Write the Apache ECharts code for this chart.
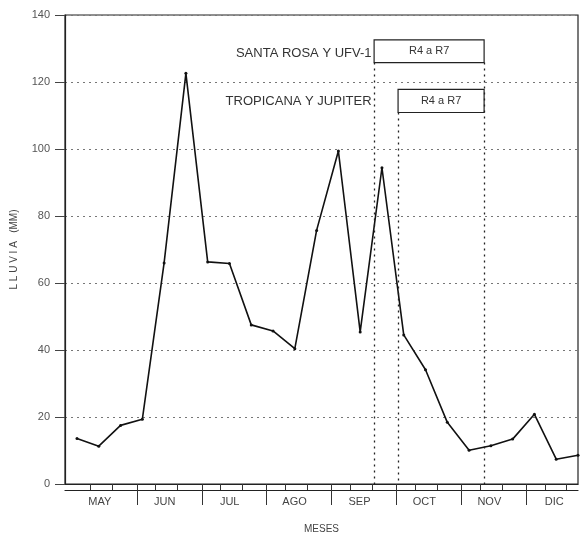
<!DOCTYPE html>
<html>
<head>
<meta charset="utf-8">
<style>html,body{margin:0;padding:0;background:#fff;}#c{width:580px;height:539px;}</style>
<script src="https://cdn.jsdelivr.net/npm/echarts@6/dist/echarts.min.js"></script>
</head>
<body>
<div id="c"></div>
<script>
// Rainfall per decade (10-day period), May .. December
const months = ['MAY', 'JUN', 'JUL', 'AGO', 'SEP', 'OCT', 'NOV', 'DIC'];
const rainfall = [13.6, 11.3, 17.5, 19.3, 66, 122.6, 66.3, 65.8, 47.5, 45.7, 40.4, 75.7,
                  99.4, 45.4, 94.4, 44.5, 34.1, 18.4, 10.1, 11.4, 13.4, 20.8, 7.4, 8.6];
const yTicks = [0, 20, 40, 60, 80, 100, 120, 140];
// periods (in decade index units)
const periodStartSR = 13.64, periodStartTJ = 14.74, periodEnd = 18.69;
const labelSR = 'SANTA ROSA Y UFV-1';
const labelTJ = 'TROPICANA Y JUPITER';
const boxText = 'R4 a R7';

const FONT = "'Liberation Sans', Arial, sans-serif";
const monthW = 2.98, firstStart = -0.23;
const monthStarts = months.map((m, k) => firstStart + monthW * k);
const boundaries = monthStarts.slice(1);
const labelPos = monthStarts.map(s => s + 1.28);
const minorPos = [];
monthStarts.forEach(s => { minorPos.push(s + 0.85, s + 1.85); });
const XMIN = -0.55, XMAX = 23;

const chart = echarts.init(document.getElementById('c'), null, {renderer: 'canvas'});
const data = rainfall.map((v, i) => [i, v]);

chart.setOption({
  animation: false,
  backgroundColor: '#fff',
  grid: {left: 65, right: 2, top: 15, bottom: 52, show: true, borderColor: '#222', borderWidth: 1.2, backgroundColor: 'transparent'},
  xAxis: [
    {
      type: 'value', min: XMIN, max: XMAX, position: 'bottom',
      name: 'MESES', nameLocation: 'middle', nameGap: 40,
      nameTextStyle: {fontFamily: FONT, fontSize: 10, color: '#444'},
      axisLine: {show: true, onZero: false, lineStyle: {color: '#222', width: 1.2}},
      axisTick: {show: true, customValues: boundaries, length: 21, lineStyle: {color: '#333', width: 1}},
      axisLabel: {
        show: true, customValues: labelPos, margin: 12,
        fontFamily: FONT, fontSize: 11, color: '#444',
        formatter: v => {
          let best = 0;
          labelPos.forEach((p, k) => { if (Math.abs(p - v) < Math.abs(labelPos[best] - v)) best = k; });
          return months[best];
        }
      },
      splitLine: {show: false}
    },
    {
      type: 'value', min: XMIN, max: XMAX, position: 'bottom', offset: 0,
      axisLine: {show: false, onZero: false},
      axisTick: {show: true, customValues: minorPos, length: 6, lineStyle: {color: '#333', width: 1}},
      axisLabel: {show: false}, splitLine: {show: false}
    },
    {
      type: 'value', min: XMIN, max: XMAX, position: 'bottom', offset: 6,
      axisLine: {show: true, onZero: false, lineStyle: {color: '#222', width: 1.2}},
      axisTick: {show: false}, axisLabel: {show: false}, splitLine: {show: false}
    }
  ],
  yAxis: {
    type: 'value', min: 0, max: 140, interval: 20,
    name: 'L L U V I A   (MM)', nameLocation: 'middle', nameGap: 46,
    nameTextStyle: {fontFamily: FONT, fontSize: 10, color: '#444'},
    axisLine: {show: true, onZero: false, lineStyle: {color: '#222', width: 1.2}},
    axisTick: {show: true, length: 10, lineStyle: {color: '#444'}},
    axisLabel: {margin: 15, fontFamily: FONT, fontSize: 11, color: '#555',
      formatter: v => yTicks.includes(v) ? String(v) : ''},
    splitLine: {show: true, lineStyle: {type: [2, 4], color: '#777', width: 1}}
  },
  series: [{
    type: 'line', data: data, xAxisIndex: 0,
    symbol: 'circle', symbolSize: 3,
    lineStyle: {color: '#111', width: 1.6},
    itemStyle: {color: '#111'},
    clip: true,
    markLine: {
      silent: true, symbol: ['none', 'none'],
      lineStyle: {type: [2, 4], color: '#222', width: 1.3},
      label: {show: false},
      data: [
        [{coord: [periodStartSR, 125.8]}, {coord: [periodStartSR, 0]}],
        [{coord: [periodStartTJ, 110.9]}, {coord: [periodStartTJ, 0]}],
        [{coord: [periodEnd, 125.8]}, {coord: [periodEnd, 0]}]
      ]
    },
    markArea: {
      silent: true,
      itemStyle: {color: '#fff', borderColor: '#222', borderWidth: 1.2},
      label: {show: true, position: 'inside', fontFamily: FONT, fontSize: 11, color: '#333'},
      data: [
        [{coord: [periodStartSR, 132.6], name: boxText}, {coord: [periodEnd, 125.8]}],
        [{coord: [periodStartTJ, 117.8], name: boxText}, {coord: [periodEnd, 110.9]}]
      ]
    },
    markPoint: {
      silent: true, symbol: 'rect', symbolSize: 1,
      itemStyle: {color: 'rgba(0,0,0,0)'},
      label: {show: true, position: 'left', distance: 1, fontFamily: FONT, fontSize: 13, color: '#333',
        formatter: p => p.name},
      data: [
        {coord: [periodStartSR - 0.05, 128.6], name: labelSR},
        {coord: [periodStartSR - 0.05, 114.2], name: labelTJ}
      ]
    }
  }]
});
</script>
</body>
</html>
